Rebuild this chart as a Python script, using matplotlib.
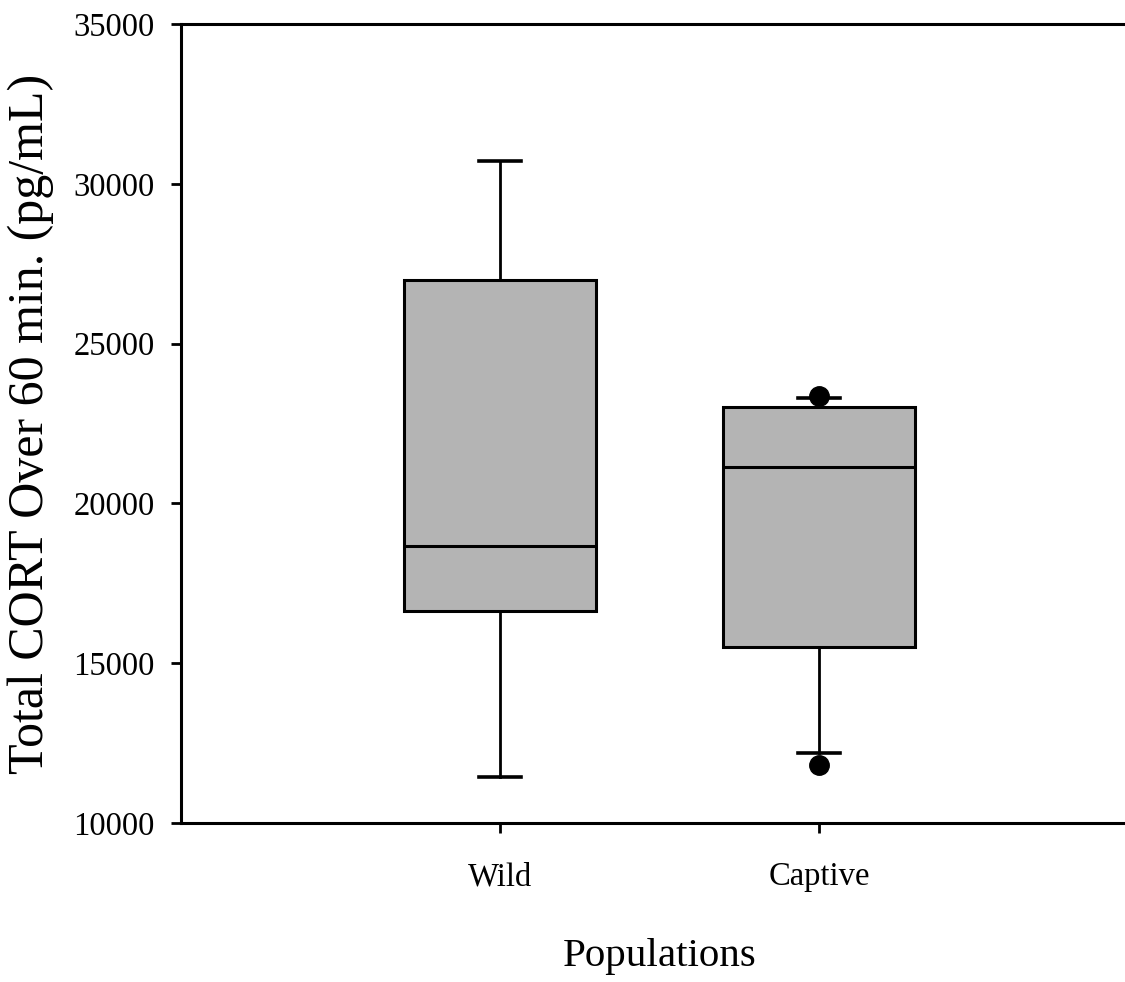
import matplotlib as mpl
mpl.use('Agg')
import matplotlib.pyplot as plt

# box summaries (pg/mL)
groups = ['Wild', 'Captive']
whislo = [11440, 12190]
q1 = [16630, 15510]
med = [18680, 21140]
q3 = [26980, 23010]
whishi = [30720, 23300]
fliers = [[], [11810, 23360]]

yticks = [10000, 15000, 20000, 25000, 30000, 35000]

plt.rcParams['font.family'] = ['Liberation Serif', 'DejaVu Serif']

fig = plt.figure(figsize=(11.25, 9.82), dpi=100)
ax = fig.add_axes([181/1125, 159/982, 957/1125, 799/982])

stats = []
for i in range(len(groups)):
    stats.append(dict(label=groups[i], whislo=whislo[i], q1=q1[i], med=med[i],
                      q3=q3[i], whishi=whishi[i], fliers=fliers[i]))

ax.bxp(stats, positions=[1, 2], widths=0.6, patch_artist=True,
       showfliers=True,
       boxprops=dict(facecolor='#b4b4b4', edgecolor='black', linewidth=2.2),
       medianprops=dict(color='black', linewidth=2.2),
       whiskerprops=dict(color='black', linewidth=2.0),
       capprops=dict(color='black', linewidth=2.6),
       capwidths=0.13,
       flierprops=dict(marker='o', markerfacecolor='black', markeredgecolor='black',
                       markersize=14))

ax.set_xlim(0, 3)
ax.set_ylim(10000, 35000)
ax.set_yticks(yticks)
ax.set_yticklabels([str(v) for v in yticks])
ax.set_xticks([1, 2])
ax.set_xticklabels(groups)

for s in ['left', 'bottom', 'top', 'right']:
    ax.spines[s].set_linewidth(2.2)

ax.tick_params(axis='y', direction='out', length=7, width=2, labelsize=23.5, pad=12)
ax.tick_params(axis='x', direction='out', length=7, width=2, labelsize=23.5, pad=21)

ax.set_ylabel('Total CORT Over 60 min. (pg/mL)', fontsize=36, labelpad=14)
ax.set_xlabel('Populations', fontsize=29.5, labelpad=33)

plt.savefig('out.png', dpi=100)
